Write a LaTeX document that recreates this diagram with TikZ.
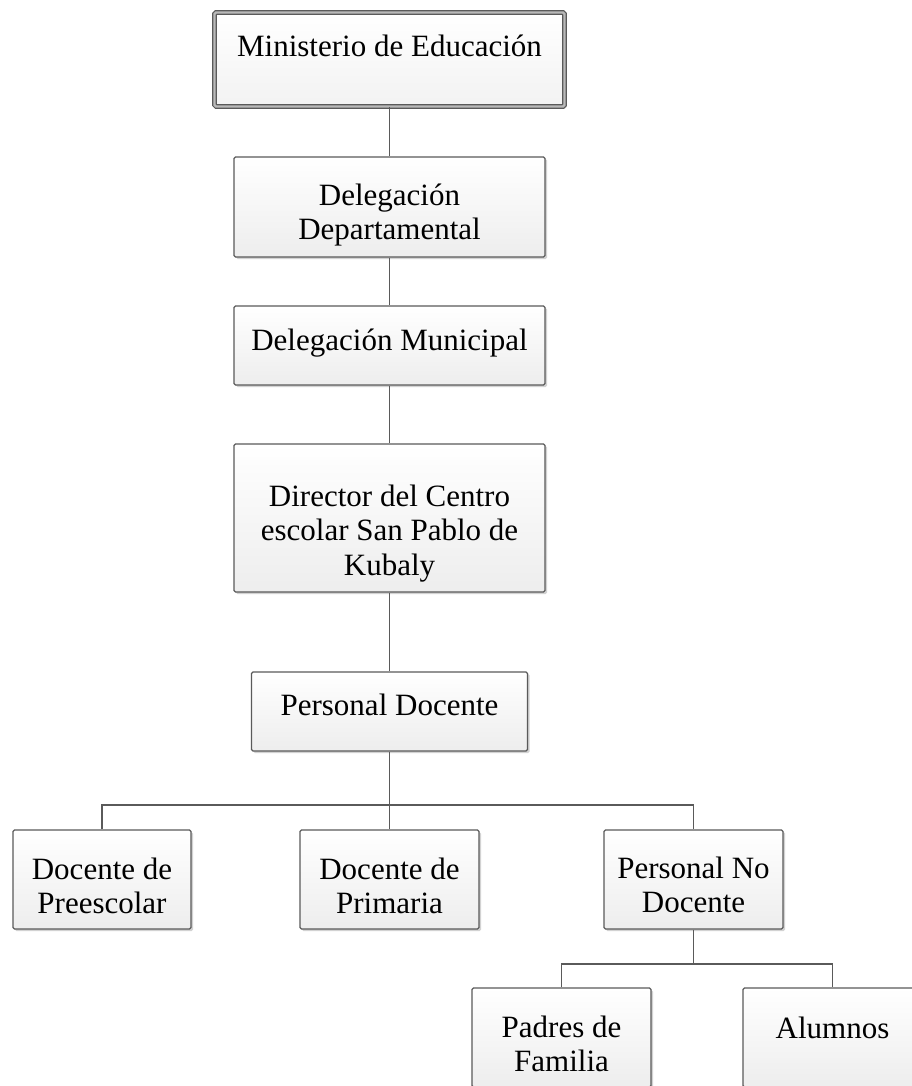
\documentclass[tikz,border=0pt]{standalone}
\usepackage{fontspec}
\setmainfont{Liberation Serif}
\usetikzlibrary{shadows}
\definecolor{edge}{HTML}{5A5A5A}
\tikzset{
  box/.style={draw=edge, line width=1.3pt, rounded corners=1.5pt,
    top color=white, bottom color=gray!14,
    drop shadow={shadow xshift=2pt, shadow yshift=-2pt, opacity=0.35, fill=gray},
    inner sep=0pt},
  topbox/.style={draw=edge, line width=1.1pt, double=gray!55, double distance=2.4pt,
    rounded corners=1.5pt, top color=white, bottom color=gray!10,
    drop shadow={shadow xshift=2pt, shadow yshift=-2pt, opacity=0.3, fill=gray},
    inner sep=0pt},
  lbl/.style={anchor=base, inner sep=0pt, font=\fontsize{31}{34.5}\selectfont},
  conn/.style={draw=edge, line width=1.4pt}
}
\newcommand{\twol}[2]{\begin{tabular}[t]{@{}c@{}}#1\\#2\end{tabular}}
\newcommand{\threel}[3]{\begin{tabular}[t]{@{}c@{}}#1\\#2\\#3\end{tabular}}
\begin{document}
\begin{tikzpicture}[x=1pt,y=-1pt]
\useasboundingbox (0,0) rectangle (912,1086);
\fill[white] (0,0) rectangle (912,1086);
% boxes
\node[topbox, minimum width=350pt, minimum height=94pt] (min) at (389.5,59.5) {};
\node[box, minimum width=311pt, minimum height=100pt] (dep) at (389.5,207) {};
\node[box, minimum width=311pt, minimum height=79pt] (mun) at (389.5,345.5) {};
\node[box, minimum width=311pt, minimum height=148pt] (dir) at (389.5,518) {};
\node[box, minimum width=276pt, minimum height=79pt] (pd) at (389.5,711.5) {};
\node[box, minimum width=178pt, minimum height=99pt] (pre) at (102,879.5) {};
\node[box, minimum width=179pt, minimum height=99pt] (pri) at (389.5,879.5) {};
\node[box, minimum width=179pt, minimum height=99pt] (pnd) at (693.5,879.5) {};
\node[box, minimum width=179pt, minimum height=99pt] (pad) at (561.5,1037.5) {};
\node[box, minimum width=179pt, minimum height=99pt] (alu) at (832.5,1037.5) {};
% labels
\node[lbl] (min-t) at (389.5,57) {Ministerio de Educación};
\node[lbl] (dep-t) at (389.5,205) {\twol{Delegación}{Departamental}};
\node[lbl] (mun-t) at (389.5,350) {Delegación Municipal};
\node[lbl] (dir-t) at (389.5,506) {\threel{Director del Centro}{escolar San Pablo de}{Kubaly}};
\node[lbl] (pd-t) at (389.5,715) {Personal Docente};
\node[lbl] (pre-t) at (102,879) {\twol{Docente de}{Preescolar}};
\node[lbl] (pri-t) at (389.5,879) {\twol{Docente de}{Primaria}};
\node[lbl] (pnd-t) at (693.5,878) {\twol{Personal No}{Docente}};
\node[lbl] (pad-t) at (561.5,1037) {\twol{Padres de}{Familia}};
\node[lbl] (alu-t) at (832.5,1038) {Alumnos};
% connectors
\coordinate (bus1) at (389.5,805);
\coordinate (bus2) at (693.5,964);
\draw[conn] (min) -- (dep);
\draw[conn] (dep) -- (mun);
\draw[conn] (mun) -- (dir);
\draw[conn] (dir) -- (pd);
\draw[conn] (pd) -- (pri);
\draw[conn] (pre.north) |- (bus1) -| (pnd.north);
\draw[conn] (pnd) -- (bus2);
\draw[conn] (pad.north) |- (bus2) -| (alu.north);
\end{tikzpicture}
\end{document}
